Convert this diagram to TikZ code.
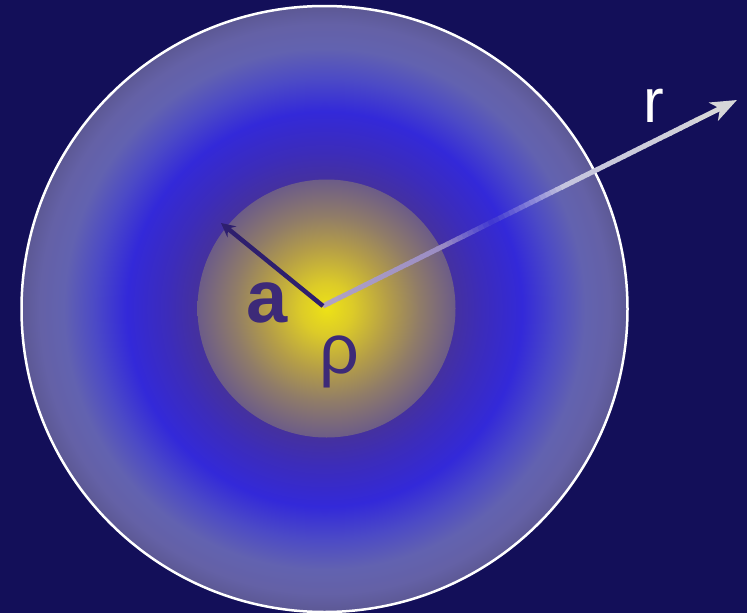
\documentclass[tikz,border=0pt]{standalone}
\usepackage{fontspec}
\setmainfont{Liberation Sans}
\usetikzlibrary{arrows.meta,calc}
\definecolor{bg}{HTML}{130F59}
\definecolor{ringA}{HTML}{45319E}
\definecolor{ringB}{HTML}{3C2CBA}
\definecolor{ringC}{HTML}{3329D9}
\definecolor{ringD}{HTML}{4C4AC6}
\definecolor{ringE}{HTML}{6262B0}
\definecolor{ringF}{HTML}{6461A6}
\definecolor{ringG}{HTML}{5C5894}
\definecolor{coreA}{HTML}{EDE216}
\definecolor{coreB}{HTML}{DCCB28}
\definecolor{coreC}{HTML}{B49D48}
\definecolor{coreD}{HTML}{907C68}
\definecolor{coreE}{HTML}{6C5C88}
\definecolor{sA}{HTML}{B2A4C4}
\definecolor{sB}{HTML}{9A8CC4}
\definecolor{sC}{HTML}{3E36D2}
\definecolor{sD}{HTML}{C4C4DE}
\definecolor{sE}{HTML}{D6D6D8}
\definecolor{labelpurple}{HTML}{3D2A78}
\definecolor{darkline}{HTML}{2E1F6E}
\pgfdeclareradialshading{outerring}{\pgfpointorigin}{color(0bp)=(ringA); color(10.6bp)=(ringA); color(13bp)=(ringB); color(16.3bp)=(ringC); color(19bp)=(ringD); color(21.5bp)=(ringE); color(23.5bp)=(ringF); color(25bp)=(ringG); color(50bp)=(ringG)}
\pgfdeclareradialshading{innercore}{\pgfpointorigin}{color(0bp)=(coreA); color(5bp)=(coreB); color(12bp)=(coreC); color(18bp)=(coreD); color(25bp)=(coreE); color(50bp)=(coreE)}
\begin{document}
\begin{tikzpicture}[x=1pt,y=-1pt,
  biglabel/.style={inner sep=0pt, anchor=base},
  shaft/.style={line width=5pt, line cap=butt}]
\fill[bg] (0,0) rectangle (747,613);
\useasboundingbox (0,0) rectangle (747,613);
\coordinate (OC) at (324.5,309);
\coordinate (IC) at (326.5,308.5);
\coordinate (O) at (323,306);
\coordinate (A) at (221,223);
\coordinate (R) at (737,100);
\shade[shading=outerring] (OC) circle[radius=303];
\draw[white, line width=2.5pt] (OC) circle[radius=303];
\shade[shading=innercore] (IC) circle[radius=129];
% gradient shaft of r arrow
\foreach \i in {0,...,71}{
  \pgfmathsetmacro\ta{\i/80}
  \pgfmathsetmacro\tb{(\i+1.25)/80}
  \pgfmathsetmacro\tm{(\i+0.5)/80}
  \ifdim\tm pt<0.29pt
    \pgfmathtruncatemacro\pc{\tm/0.29*100}\colorlet{segc}{sB!\pc!sA}
  \else\ifdim\tm pt<0.41pt
    \pgfmathtruncatemacro\pc{(\tm-0.29)/0.12*100}\colorlet{segc}{sC!\pc!sB}
  \else\ifdim\tm pt<0.58pt
    \pgfmathtruncatemacro\pc{(\tm-0.41)/0.17*100}\colorlet{segc}{sD!\pc!sC}
  \else
    \pgfmathtruncatemacro\pc{(\tm-0.58)/0.42*100}\colorlet{segc}{sE!\pc!sD}
  \fi\fi\fi
  \draw[shaft, segc] ($(O)!\ta!(R)$) -- ($(O)!\tb!(R)$);
}
\draw[shaft, sE, -{Stealth[length=26pt,width=20pt,inset=7pt]}] ($(O)!0.9!(R)$) -- (R);
% radius a arrow
\draw[darkline, line width=4.5pt, -{Stealth[length=14pt,width=14pt,inset=5pt]}] (O) -- (A);
\node[biglabel, font=\fontsize{62}{70}\selectfont, text=white] (rlabel) at (654,122) {r};
\node[biglabel, font=\fontsize{74}{80}\selectfont\bfseries, text=labelpurple] (alabel) at (267,322) {a};
\node[biglabel, font=\fontsize{70}{76}\selectfont, text=labelpurple] (rholabel) at (339,373) {ρ};
\end{tikzpicture}
\end{document}
